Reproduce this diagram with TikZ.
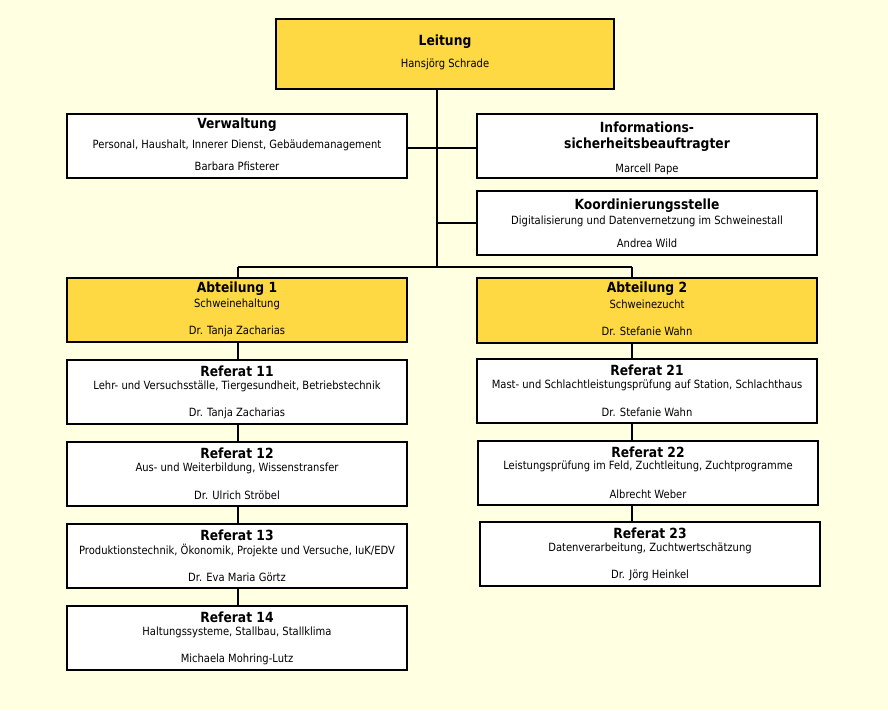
\documentclass[tikz,border=0pt]{standalone}
\usepackage{fontspec}
\setmainfont{DejaVu Sans}[FakeStretch=0.88]
\definecolor{bgcol}{HTML}{FFFFE1}
\definecolor{gold}{HTML}{FFD944}
\tikzset{
  orgbox/.style={draw=black, line width=0.8pt, rectangle, inner sep=0pt},
  ttl/.style={font=\fontsize{10.5}{12}\selectfont\bfseries, inner sep=0pt, align=center},
  sub/.style={font=\fontsize{8.5}{10}\selectfont, inner sep=0pt},
  conn/.style={draw=black, line width=0.8pt}
}
\newcommand{\mybox}[6]{%
  \node[orgbox, fill=#6, minimum width={(#4-#2)*0.75pt}, minimum height={(#5-#3)*0.75pt}] (#1) at ({(#2+#4)/2},{(#3+#5)/2}) {};}
\begin{document}
\begin{tikzpicture}[x=0.75pt, y=-0.75pt]
\fill[bgcol] (0,0) rectangle (888,710);
\useasboundingbox (0,0) rectangle (888,710);

\coordinate (j) at (437,267);
\coordinate (jl) at (238,267);
\coordinate (jr) at (632,267);

\mybox{lei}{276}{19}{614}{89}{gold}
\mybox{verw}{67}{114}{407}{178}{white}
\mybox{info}{477}{114}{817}{178}{white}
\mybox{koor}{477}{191}{817}{255}{white}
\mybox{ab1}{67}{278}{407}{342}{gold}
\mybox{ab2}{477}{278}{817}{343}{gold}
\mybox{r11}{67}{360}{407}{424}{white}
\mybox{r12}{67}{442}{407}{506}{white}
\mybox{r13}{67}{524}{407}{588}{white}
\mybox{r14}{67}{606}{407}{670}{white}
\mybox{r21}{477}{359}{817}{423}{white}
\mybox{r22}{478}{441}{818}{505}{white}
\mybox{r23}{480}{522}{820}{586}{white}

\draw[conn] (lei.south -| j) -- (j);
\draw[conn] (verw.east |- 0,148) -- (info.west |- 0,148);
\draw[conn] (j |- koor.west) -- (koor.west);
\draw[conn] (jl) -- (jr);
\draw[conn] (jl) -- (ab1.north -| jl);
\draw[conn] (jr) -- (ab2.north -| jr);
\draw[conn] (ab1.south -| jl) -- (r11.north -| jl);
\draw[conn] (r11.south -| jl) -- (r12.north -| jl);
\draw[conn] (r12.south -| jl) -- (r13.north -| jl);
\draw[conn] (r13.south -| jl) -- (r14.north -| jl);
\draw[conn] (ab2.south -| jr) -- (r21.north -| jr);
\draw[conn] (r21.south -| jr) -- (r22.north -| jr);
\draw[conn] (r22.south -| jr) -- (r23.north -| jr);

\node[ttl] (lei-t) at (445,41.5) {Leitung};
\node[sub] (lei-n) at (445,64.5) {Hansjörg Schrade};

\node[ttl] (verw-t) at (237,125) {Verwaltung};
\node[sub] (verw-s) at (237,145) {Personal, Haushalt, Innerer Dienst, Gebäudemanagement};
\node[sub] (verw-n) at (237,166) {Barbara Pfisterer};

\node[ttl] (info-t) at (647,136.5) {Informations-\\sicherheitsbeauftragter};
\node[sub] (info-n) at (647,169) {Marcell Pape};

\node[ttl] (koor-t) at (647,206) {Koordinierungsstelle};
\node[sub] (koor-s) at (647,221) {Digitalisierung und Datenvernetzung im Schweinestall};
\node[sub] (koor-n) at (647,243) {Andrea Wild};

\node[ttl] (ab1-t) at (237,289) {Abteilung 1};
\node[sub] (ab1-s) at (237,304) {Schweinehaltung};
\node[sub] (ab1-n) at (237,331) {Dr. Tanja Zacharias};

\node[ttl] (ab2-t) at (647,289) {Abteilung 2};
\node[sub] (ab2-s) at (647,304) {Schweinezucht};
\node[sub] (ab2-n) at (647,331) {Dr. Stefanie Wahn};

\node[ttl] (r11-t) at (237,371) {Referat 11};
\node[sub] (r11-s) at (237,386) {Lehr- und Versuchsställe, Tiergesundheit, Betriebstechnik};
\node[sub] (r11-n) at (237,413) {Dr. Tanja Zacharias};

\node[ttl] (r12-t) at (237,453) {Referat 12};
\node[sub] (r12-s) at (237,468) {Aus- und Weiterbildung, Wissenstransfer};
\node[sub] (r12-n) at (237,495) {Dr. Ulrich Ströbel};

\node[ttl] (r13-t) at (237,535) {Referat 13};
\node[sub] (r13-s) at (237,550) {Produktionstechnik, Ökonomik, Projekte und Versuche, IuK/EDV};
\node[sub] (r13-n) at (237,577) {Dr. Eva Maria Görtz};

\node[ttl] (r14-t) at (237,617) {Referat 14};
\node[sub] (r14-s) at (237,632) {Haltungssysteme, Stallbau, Stallklima};
\node[sub] (r14-n) at (237,659) {Michaela Mohring-Lutz};

\node[ttl] (r21-t) at (647,370) {Referat 21};
\node[sub] (r21-s) at (647,385) {Mast- und Schlachtleistungsprüfung auf Station, Schlachthaus};
\node[sub] (r21-n) at (647,412) {Dr. Stefanie Wahn};

\node[ttl] (r22-t) at (648,452) {Referat 22};
\node[sub] (r22-s) at (648,466) {Leistungsprüfung im Feld, Zuchtleitung, Zuchtprogramme};
\node[sub] (r22-n) at (648,494) {Albrecht Weber};

\node[ttl] (r23-t) at (650,533) {Referat 23};
\node[sub] (r23-s) at (650,548) {Datenverarbeitung, Zuchtwertschätzung};
\node[sub] (r23-n) at (650,575) {Dr. Jörg Heinkel};
\end{tikzpicture}
\end{document}
